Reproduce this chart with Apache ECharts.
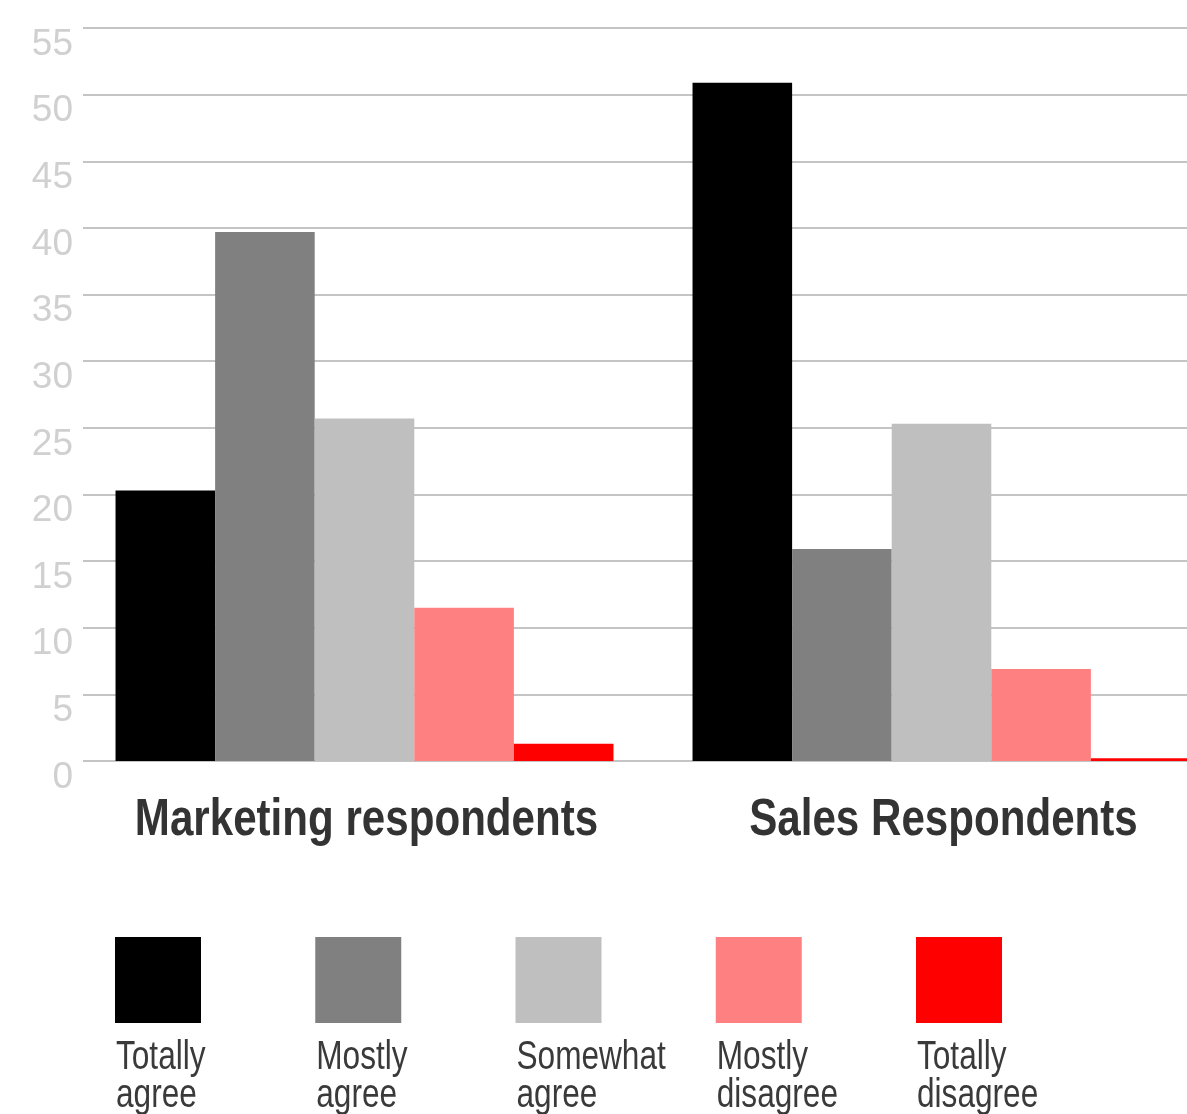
<!DOCTYPE html>
<html>
<head>
<meta charset="utf-8">
<script src="https://cdn.jsdelivr.net/npm/echarts@6/dist/echarts.min.js"></script>
<style>
  html, body { margin: 0; padding: 0; background: #ffffff; overflow: hidden; }
  /* the last bar group runs past the right edge of the page */
  #chart { width: 1230px; height: 1114px; }
</style>
</head>
<body>
<div id="chart"></div>
<script>
// Survey answers, in percent of respondents
const groups = ['Marketing respondents', 'Sales Respondents'];
const answers = ['Totally agree', 'Mostly agree', 'Somewhat agree', 'Mostly disagree', 'Totally disagree'];
const legendLabels = ['Totally\nagree', 'Mostly\nagree', 'Somewhat\nagree', 'Mostly\ndisagree', 'Totally\ndisagree'];
const totallyAgree = [20.3, 50.9];
const mostlyAgree = [39.7, 15.9];
const somewhatAgree = [25.7, 25.3];
const mostlyDisagree = [11.5, 6.9];
const totallyDisagree = [1.3, 0.2];
const answerValues = [totallyAgree, mostlyAgree, somewhatAgree, mostlyDisagree, totallyDisagree];
const colors = ['#000000', '#808080', '#bfbfbf', '#ff8080', '#ff0000'];
const yMax = 55;
const yStep = 5;

const sans = '"Liberation Sans", Arial, sans-serif';

const chart = echarts.init(document.getElementById('chart'), null, { renderer: 'canvas' });

const plotTop = 28;
const plotBottom = 353;

// Legend: swatch with a two-line caption underneath, narrowed to a condensed look
const legendGraphics = answers.map((name, i) => ({
  type: 'group',
  left: 115 + i * 200.25,
  top: 937,
  children: [
    { type: 'rect', shape: { x: 0, y: 0, width: 86, height: 86 }, style: { fill: colors[i] } },
    {
      type: 'text', x: 1, y: 102, scaleX: 0.79,
      style: {
        text: legendLabels[i], fill: '#3a3a3a',
        font: '40px ' + sans, lineHeight: 38, verticalAlign: 'top'
      }
    }
  ]
}));

chart.setOption({
  animation: false,
  color: colors,
  grid: [
    // bars
    { left: 76, right: 0, top: plotTop, bottom: plotBottom },
    // horizontal rules and value labels, ending at the page edge
    { left: 83, right: 43, top: plotTop, bottom: plotBottom }
  ],
  xAxis: [
    {
      type: 'category', gridIndex: 0, data: groups,
      axisLine: { show: false }, axisTick: { show: false },
      axisLabel: { show: false }
    },
    { type: 'value', gridIndex: 1, show: false, min: 0, max: 1 }
  ],
  yAxis: [
    { type: 'value', gridIndex: 0, min: 0, max: yMax, interval: yStep, show: false },
    {
      type: 'value', gridIndex: 1, min: 0, max: yMax, interval: yStep,
      axisLine: { show: false }, axisTick: { show: false },
      splitLine: { lineStyle: { color: '#c4c4c4', width: 2 } },
      axisLabel: {
        margin: 10, color: '#d0d0d0',
        fontFamily: sans, fontSize: 37,
        verticalAlign: 'top', padding: [-2, 0, 0, 0]
      }
    }
  ],
  series: answers.map((name, i) => ({
    name: name,
    type: 'bar',
    xAxisIndex: 0,
    yAxisIndex: 0,
    data: answerValues[i],
    barGap: '0%',
    barCategoryGap: '13.7%',
    itemStyle: { color: colors[i] },
    z: 3
  })),
  graphic: legendGraphics
});

// Group names under the bars, centred on each category of the x axis
const baseY = chart.convertToPixel({ yAxisIndex: 0 }, 0);
const groupLabels = groups.map((g, i) => ({
  type: 'text',
  x: chart.convertToPixel({ xAxisIndex: 0 }, g) + 2,
  y: baseY + 60,
  scaleX: 0.81,
  style: {
    text: g, fill: '#333333',
    font: 'bold 52px ' + sans,
    align: 'center', verticalAlign: 'middle'
  }
}));
chart.setOption({ graphic: legendGraphics.concat(groupLabels) });
</script>
</body>
</html>
